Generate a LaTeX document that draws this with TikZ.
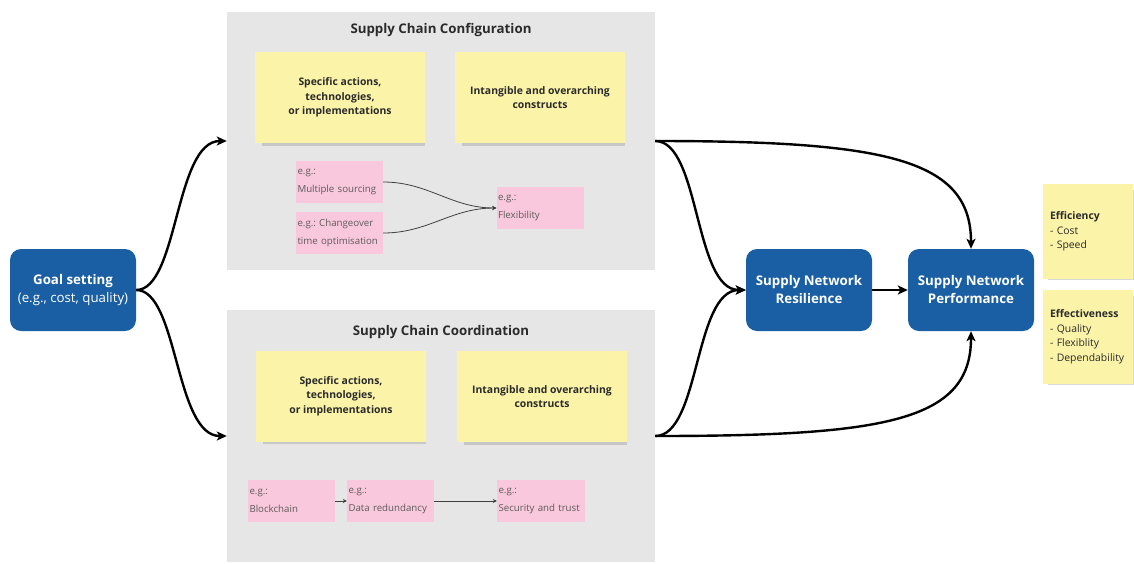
\documentclass[tikz,border=0pt]{standalone}
\usepackage{fontspec}
\setmainfont{Open Sans}
\usetikzlibrary{arrows.meta,shadows}
\definecolor{nblue}{HTML}{1A5FA3}
\definecolor{panelgray}{HTML}{E6E6E6}
\definecolor{noteyellow}{HTML}{FBF3A8}
\definecolor{notepink}{HTML}{FAC8DC}
\definecolor{pinktext}{HTML}{5C5C5C}
\definecolor{darktext}{HTML}{2B2B2B}
\frenchspacing
\begin{document}
\begin{tikzpicture}[x=1pt,y=-1pt,
  bluebox/.style={fill=nblue, rounded corners=11pt, minimum width=126pt, minimum height=82pt,
    inner sep=0pt, text=white, align=center, font=\fontsize{13.3}{18}\selectfont\bfseries},
  panel/.style={fill=panelgray, inner sep=0pt},
  ptitle/.style={font=\fontsize{13.3}{15}\selectfont\bfseries, text=darktext},
  ynote/.style={fill=noteyellow, inner sep=0pt, minimum width=170pt, minimum height=91pt,
    align=center, text=darktext, font=\fontsize{10.4}{14.5}\selectfont\bfseries,
    drop shadow={opacity=0.3, shadow xshift=4pt, shadow yshift=-5pt, shadow scale=0.96}},
  rnote/.style={fill=noteyellow, inner xsep=7pt, inner ysep=0pt, minimum width=90pt, minimum height=94pt,
    text width=76pt, align=left, text=darktext, font=\fontsize{10.4}{14.5}\selectfont,
    drop shadow={opacity=0.3, shadow xshift=3pt, shadow yshift=-4pt, shadow scale=0.95}},
  pnote/.style={fill=notepink, inner xsep=1.5pt, inner ysep=0pt, minimum width=87pt, minimum height=42pt,
    text width=84pt, align=left, text=pinktext, font=\fontsize{9.7}{17.5}\selectfont},
  big/.style={line width=2.4pt, black, -{Stealth[length=10pt,width=9pt,inset=2.5pt]}},
  thin/.style={line width=0.8pt, black!75, -{Stealth[length=4pt,width=4pt]}}
]
\useasboundingbox (0,0) rectangle (1134,563);

% panels
\node[panel, minimum width=428pt, minimum height=258pt] (topp) at (441,141) {};
\node[panel, minimum width=428pt, minimum height=252pt] (botp) at (441,436) {};
\node[ptitle] (ttop) at (441,30.5) {Supply Chain Configuration};
\node[ptitle] (tbot) at (441,332.5) {Supply Chain Coordination};

% yellow notes
\node[ynote] (y1) at (340,97.5) {Specific actions,\\technologies,\\or implementations};
\node[ynote] (y2) at (540,97.5) {Intangible and overarching\\constructs};
\node[ynote] (y3) at (341,396) {Specific actions,\\technologies,\\or implementations};
\node[ynote] (y4) at (542,396.5) {Intangible and overarching\\constructs};

% pink notes
\node[pnote] (p1) at (339.5,182) {e.g.:\\Multiple sourcing};
\node[pnote] (p2) at (339.5,233) {e.g.: Changeover\\time optimisation};
\node[pnote] (p3) at (540,208) {e.g.:\\Flexibility};
\node[pnote] (p4) at (291.5,501) {e.g.:\\Blockchain};
\node[pnote] (p5) at (390.5,501) {e.g.:\\Data redundancy};
\node[pnote, minimum width=88pt, text width=85pt] (p6) at (541,501) {e.g.:\\Security and trust};

\draw[thin] (p1.east) .. controls +(45,0) and +(-45,0) .. (p3.west);
\draw[thin] (p2.east) .. controls +(45,0) and +(-45,0) .. (p3.west);
\draw[thin] (p4.east) -- (p5.west);
\draw[thin] (p5.east) -- (p6.west);

% blue boxes
\node[bluebox] (goal) at (73,290) {Goal setting\\\mdseries(e.g., cost, quality)};
\node[bluebox] (res) at (809,290) {Supply Network\\Resilience};
\node[bluebox] (perf) at (971,290) {Supply Network\\Performance};

% right notes
\node[rnote, minimum height=95pt] (eff1) at (1088,231.5) {\textbf{Efficiency}\\- Cost\\- Speed};
\node[rnote] (eff2) at (1088,337) {\textbf{Effectiveness}\\- Quality\\- Flexiblity\\- Dependability};

% big arrows
\draw[big] (goal.east) .. controls +(42,0) and +(-52,0) .. (topp.west);
\draw[big] (goal.east) .. controls +(42,0) and +(-52,0) .. (botp.west);
\draw[big] (topp.east) .. controls +(45,0) and +(-52,0) .. (res.west);
\draw[big] (botp.east) .. controls +(45,0) and +(-52,0) .. (res.west);
\draw[big] (topp.east) .. controls +(230,0) and +(0,-90) .. (perf.north);
\draw[big] (botp.east) .. controls +(230,0) and +(0,90) .. (perf.south);
\draw[big] (res.east) -- (perf.west);
\end{tikzpicture}
\end{document}
